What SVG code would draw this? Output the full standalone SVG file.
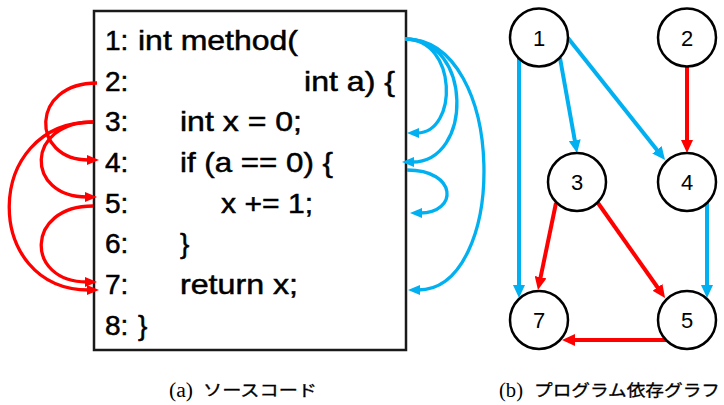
<svg xmlns="http://www.w3.org/2000/svg" width="724" height="405" viewBox="0 0 724 405">
<style>
.code{font-family:"Liberation Sans",Arial,sans-serif;font-size:28px;fill:#000;stroke:#000;stroke-width:0.5}
.cap{font-family:"Liberation Serif","Times New Roman",serif;font-size:20px;fill:#000}
.capj{font-family:"Noto Sans CJK JP",sans-serif;font-size:16px;fill:#000;stroke:#000;stroke-width:0.3}
.node circle{fill:#fff;stroke:#000;stroke-width:2.5}
.node text{font-family:"Liberation Sans",Arial,sans-serif;font-size:22px;fill:#000;text-anchor:middle}
.r{fill:none;stroke:#FF0000;stroke-width:3.3}
.b{fill:none;stroke:#00B0F0;stroke-width:3.3}
.gr{fill:none;stroke:#FF0000;stroke-width:4}
.gb{fill:none;stroke:#00B0F0;stroke-width:4}
</style>
<defs>
<marker id="ar" markerUnits="userSpaceOnUse" markerWidth="12" markerHeight="10" refX="2" refY="5" orient="auto"><path d="M0,0 L12,5 L0,10 z" fill="#FF0000"/></marker>
<marker id="ab" markerUnits="userSpaceOnUse" markerWidth="12" markerHeight="10" refX="2" refY="5" orient="auto"><path d="M0,0 L12,5 L0,10 z" fill="#00B0F0"/></marker>
<marker id="gar" markerUnits="userSpaceOnUse" markerWidth="13" markerHeight="12" refX="2" refY="6" orient="auto"><path d="M0,0 L13,6 L0,12 z" fill="#FF0000"/></marker>
<marker id="gab" markerUnits="userSpaceOnUse" markerWidth="13" markerHeight="12" refX="2" refY="6" orient="auto"><path d="M0,0 L13,6 L0,12 z" fill="#00B0F0"/></marker>
</defs>

<g id="source">
<rect x="94" y="11" width="312" height="339" fill="#fff" stroke="#1a1a1a" stroke-width="2.5"/>
<text class="code" x="105" y="50">1:</text><text class="code" x="138" y="50" textLength="160" lengthAdjust="spacingAndGlyphs">int method(</text>
<text class="code" x="105" y="91">2:</text><text class="code" x="304" y="91" textLength="91" lengthAdjust="spacingAndGlyphs">int a) {</text>
<text class="code" x="105" y="131">3:</text><text class="code" x="180" y="131" textLength="122" lengthAdjust="spacingAndGlyphs">int x = 0;</text>
<text class="code" x="105" y="172">4:</text><text class="code" x="180" y="172" textLength="153" lengthAdjust="spacingAndGlyphs">if (a == 0) {</text>
<text class="code" x="105" y="213">5:</text><text class="code" x="221" y="213" textLength="92" lengthAdjust="spacingAndGlyphs">x += 1;</text>
<text class="code" x="105" y="253">6:</text><text class="code" x="180" y="253">}</text>
<text class="code" x="105" y="294">7:</text><text class="code" x="180" y="294" textLength="118" lengthAdjust="spacingAndGlyphs">return x;</text>
<text class="code" x="105" y="335">8:</text><text class="code" x="138" y="335">}</text>
</g>

<g id="connectors">
<path class="r" d="M97,83 C30,83 30,160 89,160" marker-end="url(#ar)"/>
<path class="r" d="M93,122 C25,122 25,197 87,197" marker-end="url(#ar)"/>
<path class="r" d="M93,122 C-18,122 -18,290 89,290" marker-end="url(#ar)"/>
<path class="r" d="M93,206 C25,206 25,282 87,282" marker-end="url(#ar)"/>
<path class="b" d="M405,39 C458,39 458,133 417,133" marker-end="url(#ab)"/>
<path class="b" d="M405,39 C473,39 473,162 412,162" marker-end="url(#ab)"/>
<path class="b" d="M405,39 C508,39 508,290 418,290" marker-end="url(#ab)"/>
<path class="b" d="M407,170 C458,170 458,213 420,213" marker-end="url(#ab)"/>

<line class="gb" x1="519" y1="58" x2="519" y2="287" marker-end="url(#gab)"/>
<line class="gb" x1="560" y1="58" x2="575.1" y2="142.2" marker-end="url(#gab)"/>
<line class="gb" x1="568" y1="38" x2="658.2" y2="151.4" marker-end="url(#gab)"/>
<line class="gr" x1="687" y1="67" x2="687" y2="142" marker-end="url(#gar)"/>
<line class="gr" x1="556" y1="203" x2="540.2" y2="279.2" marker-end="url(#gar)"/>
<line class="gr" x1="598" y1="203" x2="658.7" y2="289" marker-end="url(#gar)"/>
<line class="gb" x1="707" y1="203" x2="707" y2="287" marker-end="url(#gab)"/>
<line class="gr" x1="666" y1="340" x2="573" y2="340" marker-end="url(#gar)"/>
</g>

<g id="n1" class="node"><circle cx="539" cy="37.5" r="29"/><text x="539" y="45.5">1</text></g>
<g id="n2" class="node"><circle cx="687" cy="37.5" r="29"/><text x="687" y="45.5">2</text></g>
<g id="n3" class="node"><circle cx="577" cy="182" r="29"/><text x="577" y="190">3</text></g>
<g id="n4" class="node"><circle cx="687" cy="182" r="29"/><text x="687" y="190">4</text></g>
<g id="n7" class="node"><circle cx="539" cy="320" r="29"/><text x="539" y="328">7</text></g>
<g id="n5" class="node"><circle cx="687" cy="320" r="29"/><text x="687" y="328">5</text></g>

<g id="captions">
<text class="cap" x="169" y="397" textLength="24" lengthAdjust="spacingAndGlyphs">(a)</text>
<text class="capj" x="203" y="396" textLength="114" lengthAdjust="spacingAndGlyphs">ソースコード</text>
<text class="cap" x="499" y="397" textLength="24" lengthAdjust="spacingAndGlyphs">(b)</text>
<text class="capj" x="534" y="396" textLength="186" lengthAdjust="spacingAndGlyphs">プログラム依存グラフ</text>
</g>
</svg>
